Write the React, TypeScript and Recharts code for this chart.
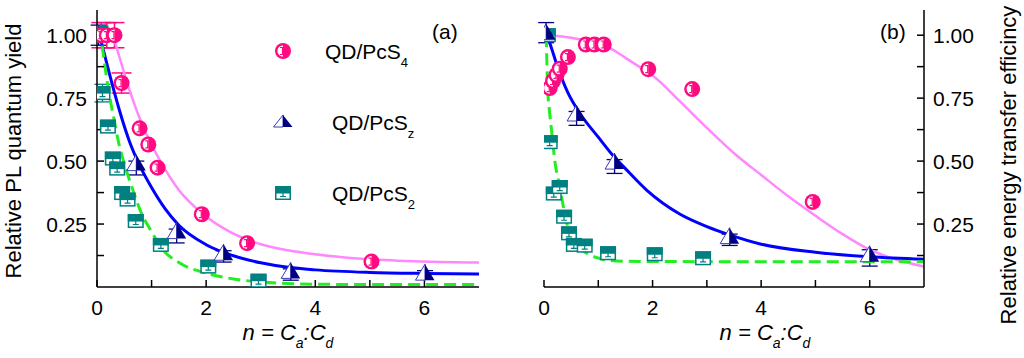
import React from 'react';
import { ComposedChart, Scatter, Line, XAxis, YAxis, ErrorBar } from 'recharts';

const FONT = '"Liberation Sans", Arial, Helvetica, sans-serif';
const PINK = '#ff0a80';
const NAVY = '#000080';
const NAVY_LIGHT = '#3a3ab4';
const TEAL = '#008080';
const BLUE = '#0000ff';
const VIOLET = '#ff88ff';
const GREEN = '#22ee22';

// ---- axis ticks ----
const xTicks = [0, 1, 2, 3, 4, 5, 6];
const xTopTicks = [1, 2, 3, 4, 5, 6];
const xLabelTicks = [0, 2, 4, 6];
const yTicks = [0.125, 0.25, 0.375, 0.5, 0.625, 0.75, 0.875, 1.0];
const yLabelTicks = [0.25, 0.5, 0.75, 1.0];

// ---- panel (a): relative PL quantum yield ----
const aPcS4 = [
  { x: 0.08, y: 1.0, e: 0.05 }, { x: 0.18, y: 1.0, e: 0.05 }, { x: 0.32, y: 1.0, e: 0.05 },
  { x: 0.45, y: 0.81, e: 0.04 }, { x: 0.78, y: 0.63 }, { x: 0.94, y: 0.566 },
  { x: 1.11, y: 0.474 }, { x: 1.92, y: 0.289 }, { x: 2.75, y: 0.174 }, { x: 5.03, y: 0.101 },
];
const aPcSz = [
  { x: 0.03, y: 1.0, e: [0.04, 0.04] }, { x: 0.72, y: 0.49, e: [0.045, 0.01] },
  { x: 1.46, y: 0.22, e: [0.045, 0.01] }, { x: 2.32, y: 0.134, e: [0.035, 0.01] },
  { x: 3.55, y: 0.062, e: [0.035, 0.01] }, { x: 6.01, y: 0.055, e: [0.02, 0.01] },
];
const aPcS2 = [
  { x: 0.06, y: 1.01 }, { x: 0.1, y: 0.77, e: 0.035 }, { x: 0.2, y: 0.637 }, { x: 0.29, y: 0.51 },
  { x: 0.37, y: 0.47 }, { x: 0.46, y: 0.373 }, { x: 0.56, y: 0.347 }, { x: 0.71, y: 0.262 },
  { x: 1.17, y: 0.167 }, { x: 2.04, y: 0.081 }, { x: 2.96, y: 0.025 },
];
const aFitS4 = [
  { x: 0.29, y: 1.0 }, { x: 0.45, y: 0.885 }, { x: 0.6, y: 0.78 }, { x: 0.8, y: 0.66 },
  { x: 1.0, y: 0.565 }, { x: 1.2, y: 0.485 }, { x: 1.5, y: 0.385 }, { x: 2.0, y: 0.28 },
  { x: 2.5, y: 0.212 }, { x: 3.0, y: 0.17 }, { x: 3.5, y: 0.146 }, { x: 4.0, y: 0.13 },
  { x: 5.0, y: 0.11 }, { x: 6.0, y: 0.101 }, { x: 7.0, y: 0.097 },
];
const aFitSz = [
  { x: 0.0, y: 1.04 }, { x: 0.1, y: 0.955 }, { x: 0.2, y: 0.87 }, { x: 0.4, y: 0.71 },
  { x: 0.6, y: 0.575 }, { x: 0.8, y: 0.475 }, { x: 1.0, y: 0.395 }, { x: 1.25, y: 0.31 },
  { x: 1.5, y: 0.245 }, { x: 2.0, y: 0.168 }, { x: 2.5, y: 0.124 }, { x: 3.0, y: 0.096 },
  { x: 3.5, y: 0.078 }, { x: 4.0, y: 0.068 }, { x: 5.0, y: 0.058 }, { x: 6.0, y: 0.054 },
  { x: 7.0, y: 0.052 },
];
const aFitS2 = [
  { x: 0.05, y: 1.03 }, { x: 0.1, y: 0.95 }, { x: 0.15, y: 0.87 }, { x: 0.22, y: 0.77 },
  { x: 0.3, y: 0.68 }, { x: 0.4, y: 0.57 }, { x: 0.5, y: 0.49 }, { x: 0.65, y: 0.39 },
  { x: 0.8, y: 0.3 }, { x: 1.0, y: 0.22 }, { x: 1.2, y: 0.15 }, { x: 1.5, y: 0.097 },
  { x: 2.0, y: 0.055 }, { x: 2.5, y: 0.032 }, { x: 3.0, y: 0.02 }, { x: 3.5, y: 0.014 },
  { x: 4.0, y: 0.011 }, { x: 5.0, y: 0.01 }, { x: 7.0, y: 0.01 },
];

// ---- panel (b): relative energy transfer efficiency ----
const bPcS4 = [
  { x: 0.105, y: 0.79 }, { x: 0.166, y: 0.818 }, { x: 0.23, y: 0.842 }, { x: 0.29, y: 0.867 },
  { x: 0.44, y: 0.913 }, { x: 0.77, y: 0.963 }, { x: 0.93, y: 0.963 }, { x: 1.1, y: 0.963 },
  { x: 1.92, y: 0.865 }, { x: 2.73, y: 0.786 }, { x: 4.95, y: 0.338 },
];
const bPcSz = [
  { x: 0.04, y: 1.01, e: [0.04, 0.04] }, { x: 0.6, y: 0.687, e: [0.045, 0.01] },
  { x: 1.3, y: 0.496, e: [0.045, 0.01] }, { x: 3.42, y: 0.2, e: [0.035, 0.01] },
  { x: 6.0, y: 0.128, e: [0.045, 0.02] },
];
const bPcS2 = [
  { x: 0.07, y: 1.0 }, { x: 0.105, y: 0.575 }, { x: 0.18, y: 0.371 }, { x: 0.29, y: 0.397 },
  { x: 0.37, y: 0.279 }, { x: 0.46, y: 0.213 }, { x: 0.55, y: 0.167 }, { x: 0.75, y: 0.164 },
  { x: 1.18, y: 0.134 }, { x: 2.04, y: 0.13 }, { x: 2.93, y: 0.114 },
];
const bFitS4 = [
  { x: 0.0, y: 1.0 }, { x: 0.25, y: 0.997 }, { x: 0.5, y: 0.99 }, { x: 0.75, y: 0.98 },
  { x: 1.0, y: 0.967 }, { x: 1.25, y: 0.945 }, { x: 1.5, y: 0.91 }, { x: 1.75, y: 0.875 },
  { x: 2.0, y: 0.84 }, { x: 2.5, y: 0.738 }, { x: 3.0, y: 0.632 }, { x: 3.5, y: 0.531 },
  { x: 4.0, y: 0.445 }, { x: 4.5, y: 0.36 }, { x: 5.0, y: 0.283 }, { x: 5.5, y: 0.21 },
  { x: 6.0, y: 0.148 }, { x: 6.5, y: 0.108 }, { x: 7.0, y: 0.081 },
];
const bFitSz = [
  { x: 0.0, y: 1.02 }, { x: 0.1, y: 0.972 }, { x: 0.25, y: 0.874 }, { x: 0.44, y: 0.772 },
  { x: 0.66, y: 0.69 }, { x: 1.0, y: 0.595 }, { x: 1.27, y: 0.522 }, { x: 1.5, y: 0.47 },
  { x: 1.89, y: 0.385 }, { x: 2.5, y: 0.29 }, { x: 3.0, y: 0.24 }, { x: 3.42, y: 0.207 },
  { x: 4.0, y: 0.17 }, { x: 5.0, y: 0.138 }, { x: 6.0, y: 0.12 }, { x: 7.0, y: 0.11 },
];
const bFitS2 = [
  { x: 0.04, y: 1.0 }, { x: 0.07, y: 0.78 }, { x: 0.1, y: 0.7 }, { x: 0.14, y: 0.62 },
  { x: 0.2, y: 0.5 }, { x: 0.29, y: 0.4 }, { x: 0.4, y: 0.27 }, { x: 0.53, y: 0.19 },
  { x: 0.72, y: 0.145 }, { x: 1.0, y: 0.115 }, { x: 1.2, y: 0.106 }, { x: 1.5, y: 0.102 },
  { x: 2.0, y: 0.101 }, { x: 7.0, y: 0.1 },
];

// ---- marker shapes ----
function CircleMark(cx: number, cy: number) {
  const r = 8, ri = 5.6;
  return (
    <g>
      <circle cx={cx} cy={cy} r={r} fill={PINK} />
      <path d={`M${cx},${cy - ri} A${ri},${ri} 0 0 0 ${cx},${cy + ri} Z`} fill="#fff" />
      <path d={`M${cx - 0.5},${cy - 3.5} V${cy + 3.5} M${cx - 3},${cy - 3.5} H${cx} M${cx - 3},${cy + 3.5} H${cx}`} stroke={PINK} strokeWidth={1.2} fill="none" />
    </g>
  );
}
function TriMark(cx: number, cy: number, w = 9.5, up = 9, down = 7) {
  return (
    <g>
      <path d={`M${cx},${cy - up} L${cx - w},${cy + down} L${cx},${cy + down} Z`} fill="#fff" stroke={NAVY_LIGHT} strokeWidth={1} />
      <path d={`M${cx},${cy - up} L${cx + w},${cy + down} L${cx},${cy + down} Z`} fill={NAVY} />
    </g>
  );
}
function SqMark(cx: number, cy: number) {
  const w = 8, h = 7;
  return (
    <g>
      <rect x={cx - w + 0.75} y={cy - h + 0.75} width={2 * w - 1.5} height={2 * h - 1.5} fill="#fff" stroke={TEAL} strokeWidth={1.5} />
      <rect x={cx - w} y={cy - h} width={2 * w} height={h + 0.5} fill={TEAL} />
      <path d={`M${cx},${cy} V${cy + 3.5} M${cx - 3},${cy + 3.5} H${cx + 3}`} stroke={TEAL} strokeWidth={1.2} fill="none" />
    </g>
  );
}
const circleShape = (p: any) => (p.cx == null ? <g /> : CircleMark(p.cx, p.cy));
const triShape = (p: any) => (p.cx == null ? <g /> : TriMark(p.cx, p.cy));
const sqShape = (p: any) => (p.cx == null ? <g /> : SqMark(p.cx, p.cy));

const tickStyle = { fill: '#000', fontSize: 21, fontFamily: FONT };
const lineStyle = { stroke: '#000', strokeWidth: 1.5 };
const fmtX = (v: number) => (xLabelTicks.includes(v) ? String(v) : '');
const fmtY = (v: number) => (yLabelTicks.some((t) => Math.abs(t - v) < 1e-9) ? v.toFixed(2) : '');

type PanelProps = {
  width: number;
  margin: { top: number; right: number; bottom: number; left: number };
  leftW: number;
  rightW: number;
  rightLabels: boolean;
  s4: any[]; sz: any[]; s2: any[];
  f4: any[]; fz: any[]; f2: any[];
};

function Panel(props: PanelProps) {
  const { width, margin, leftW, rightW, rightLabels, s4, sz, s2, f4, fz, f2 } = props;
  return (
    <ComposedChart width={width} height={358} margin={margin}>
      <XAxis
        dataKey="x" type="number" domain={[0, 7]} allowDataOverflow ticks={xTicks} interval={0}
        tickFormatter={fmtX} tick={tickStyle} tickSize={-7} tickMargin={20}
        axisLine={lineStyle} tickLine={lineStyle} height={71}
      />
      <XAxis
        xAxisId="top" orientation="top" type="number" domain={[0, 7]} allowDataOverflow
        ticks={xTopTicks} interval={0} tick={false} tickSize={-7}
        axisLine={lineStyle} tickLine={lineStyle} height={0}
      />
      <YAxis
        dataKey="y" type="number" domain={[0, 1.1]} allowDataOverflow ticks={yTicks} interval={0}
        tickFormatter={fmtY} tick={rightLabels ? false : tickStyle} tickSize={-7} tickMargin={17}
        axisLine={lineStyle} tickLine={lineStyle} width={leftW}
      />
      <YAxis
        yAxisId="r" orientation="right" type="number" domain={[0, 1.1]} allowDataOverflow
        ticks={yTicks} interval={0} tickFormatter={fmtY} tick={rightLabels ? tickStyle : false}
        tickSize={-7} tickMargin={16} axisLine={lineStyle} tickLine={lineStyle} width={rightW}
      />
      <Scatter data={s2} shape={sqShape} isAnimationActive={false}>
        <ErrorBar dataKey="e" direction="y" width={8} stroke={TEAL} strokeWidth={1.3} />
      </Scatter>
      <Scatter data={sz} shape={triShape} isAnimationActive={false}>
        <ErrorBar dataKey="e" direction="y" width={8} stroke={NAVY} strokeWidth={1.3} />
      </Scatter>
      <Scatter data={s4} shape={circleShape} isAnimationActive={false}>
        <ErrorBar dataKey="e" direction="y" width={10} stroke={PINK} strokeWidth={1.5} />
      </Scatter>
      <Line data={f4} dataKey="y" type="monotone" stroke={VIOLET} strokeWidth={2.5} dot={false} activeDot={false} isAnimationActive={false} />
      <Line data={fz} dataKey="y" type="monotone" stroke={BLUE} strokeWidth={3} dot={false} activeDot={false} isAnimationActive={false} />
      <Line data={f2} dataKey="y" type="monotone" stroke={GREEN} strokeWidth={3} strokeDasharray="12 6" dot={false} activeDot={false} isAnimationActive={false} />
    </ComposedChart>
  );
}

function AxisTitleX({ cx }: { cx: number }) {
  return (
    <text x={cx} y={340} textAnchor="middle" fontFamily={FONT} fontSize={22} fontStyle="italic" fill="#000">
      <tspan>n = C</tspan>
      <tspan dy={8} fontSize={14}>a</tspan>
      <tspan dy={-8}>:C</tspan>
      <tspan dy={8} fontSize={14}>d</tspan>
    </text>
  );
}

function LegendItem({ tx, ty, sub, icon }: { tx: number; ty: number; sub: string; icon: React.ReactNode }) {
  return (
    <g>
      {icon}
      <text x={tx} y={ty} fontFamily={FONT} fontSize={21} fill="#000">
        <tspan>QD/PcS</tspan>
        <tspan dy={8} fontSize={13}>{sub}</tspan>
      </text>
    </g>
  );
}

export default function App() {
  return (
    <div style={{ position: 'absolute', left: 0, top: 0, width: 1024, height: 358, background: '#fff', overflow: 'hidden' }}>
      <div style={{ position: 'absolute', left: 0, top: 0 }}>
        <Panel
          width={500} margin={{ top: 10, right: 21, bottom: 0, left: 0 }} leftW={97} rightW={0}
          rightLabels={false} s4={aPcS4} sz={aPcSz} s2={aPcS2} f4={aFitS4} fz={aFitSz} f2={aFitS2}
        />
      </div>
      <div style={{ position: 'absolute', left: 500, top: 0 }}>
        <Panel
          width={524} margin={{ top: 10, right: 30, bottom: 0, left: 44 }} leftW={0} rightW={70}
          rightLabels={true} s4={bPcS4} sz={bPcSz} s2={bPcS2} f4={bFitS4} fz={bFitSz} f2={bFitS2}
        />
      </div>
      <svg width={1024} height={358} style={{ position: 'absolute', left: 0, top: 0, pointerEvents: 'none' }}>
        <text x={20.5} y={151} transform="rotate(-90 20.5 151)" textAnchor="middle" fontFamily={FONT} fontSize={22} fill="#000">
          Relative PL quantum yield
        </text>
        <text x={1016} y={165} transform="rotate(-90 1016 165)" textAnchor="middle" fontFamily={FONT} fontSize={22} fill="#000">
          Relative energy transfer efficincy
        </text>
        <AxisTitleX cx={288} />
        <AxisTitleX cx={765} />
        <text x={432} y={39} fontFamily={FONT} fontSize={21} fill="#000">(a)</text>
        <text x={880} y={39} fontFamily={FONT} fontSize={21} fill="#000">(b)</text>
        <LegendItem tx={325} ty={58.5} sub="4" icon={CircleMark(283, 51)} />
        <LegendItem tx={332} ty={130} sub="z" icon={TriMark(283, 121, 9.5, 6, 6)} />
        <LegendItem tx={332} ty={201} sub="2" icon={SqMark(283, 193)} />
      </svg>
    </div>
  );
}
